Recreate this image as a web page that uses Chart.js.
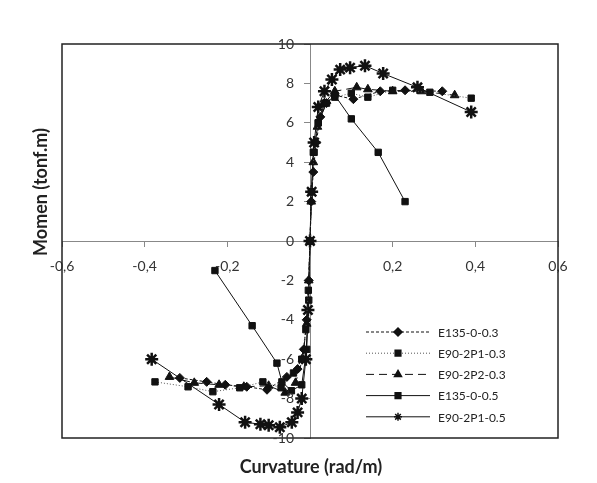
<!DOCTYPE html>
<html>
<head>
<meta charset="UTF-8">
<title>Momen - Curvature</title>
<script src="https://cdn.jsdelivr.net/npm/chart.js"></script>
<style>
  html, body { margin: 0; padding: 0; background: #fff; }
  #wrap { width: 597px; height: 483px; }
</style>
</head>
<body>
<div id="wrap"><canvas id="grafica" width="597" height="483"></canvas></div>
<script>
// series names
const seriesNames = ["E135-0-0.3", "E90-2P1-0.3", "E90-2P2-0.3", "E135-0-0.5", "E90-2P1-0.5"];

// E135-0-0.3
const x1 = [-0.315, -0.25, -0.205, -0.153, -0.104, -0.056, -0.03, -0.015, -0.008, -0.003, 0, 0.003, 0.008, 0.015, 0.025, 0.04, 0.06, 0.105, 0.17, 0.23, 0.32];
const y1 = [-6.95, -7.15, -7.3, -7.4, -7.55, -6.9, -6.5, -5.5, -4, -2, 0, 2, 3.5, 5, 6.3, 7, 7.4, 7.2, 7.6, 7.65, 7.6];

// E90-2P1-0.3
const x2 = [-0.375, -0.295, -0.235, -0.17, -0.114, -0.07, -0.04, -0.02, -0.01, -0.004, 0, 0.004, 0.01, 0.02, 0.035, 0.06, 0.1, 0.14, 0.2, 0.29, 0.39];
const y2 = [-7.15, -7.4, -7.65, -7.45, -7.15, -7.45, -6.7, -6, -4.5, -2.5, 0, 2.5, 4.5, 6, 7, 7.3, 7.5, 7.3, 7.65, 7.55, 7.25];

// E90-2P2-0.3
const x3 = [-0.34, -0.28, -0.22, -0.16, -0.1, -0.06, -0.035, -0.018, -0.008, -0.003, 0, 0.003, 0.008, 0.018, 0.035, 0.06, 0.113, 0.14, 0.2, 0.27, 0.35];
const y3 = [-6.9, -7.2, -7.3, -7.4, -7.35, -7.7, -7.2, -6, -4.2, -2, 0, 2, 4, 5.8, 7, 7.6, 7.8, 7.7, 7.6, 7.6, 7.4];

// E135-0-0.5
const x4 = [-0.23, -0.14, -0.08, -0.068, -0.045, -0.02, -0.008, -0.003, 0, 0.003, 0.008, 0.02, 0.04, 0.06, 0.1, 0.165, 0.23];
const y4 = [-1.5, -4.3, -6.2, -7.15, -7.6, -7.3, -5.5, -3, 0, 2.5, 4.5, 6, 7, 7.4, 6.2, 4.5, 2.0];

// E90-2P1-0.5
const x5 = [-0.383, -0.22, -0.157, -0.12, -0.1, -0.073, -0.044, -0.03, -0.02, -0.01, -0.005, 0, 0.004, 0.01, 0.02, 0.035, 0.053, 0.073, 0.097, 0.133, 0.177, 0.26, 0.39];
const y5 = [-6.0, -8.3, -9.2, -9.3, -9.35, -9.45, -9.2, -8.7, -8.0, -6, -3.5, 0, 2.5, 5, 6.8, 7.6, 8.2, 8.7, 8.8, 8.9, 8.5, 7.8, 6.55];

const xTicks = [-0.6, -0.4, -0.2, 0, 0.2, 0.4, 0.6];
const yTicks = [-10, -8, -6, -4, -2, 0, 2, 4, 6, 8, 10];

function puntos(xs, ys) {
  return xs.map((x, i) => ({ x: x, y: ys[i] }));
}

const estilos = [
  { pointStyle: 'rectRot', borderDash: [3, 2], radius: 4.5 },
  { pointStyle: 'rect', borderDash: [1, 2], radius: 4.5 },
  { pointStyle: 'triangle', borderDash: [8, 5], radius: 5 },
  { pointStyle: 'rect', borderDash: [], radius: 4.5 },
  { pointStyle: 'star', borderDash: [], radius: 6.5 }
];
const todos = [[x1, y1], [x2, y2], [x3, y3], [x4, y4], [x5, y5]];

const datasets = todos.map((s, i) => ({
  label: seriesNames[i],
  data: puntos(s[0], s[1]),
  showLine: true,
  borderColor: i === 1 ? '#555' : '#111',
  backgroundColor: '#111',
  borderWidth: 1,
  borderDash: estilos[i].borderDash,
  pointStyle: estilos[i].pointStyle,
  pointRadius: estilos[i].radius,
  pointBorderColor: '#111',
  pointBackgroundColor: '#111',
  pointBorderWidth: estilos[i].pointStyle === 'star' ? 2.5 : 1,
  tension: 0
}));

const fuente = 'Lato, "Open Sans", sans-serif';

// frame, y labels, axis titles and legend drawn on top
const marcoPlugin = {
  id: 'marco',
  afterDraw(chart) {
    const { ctx, chartArea: a } = chart;
    const sx = chart.scales.x, sy = chart.scales.y;
    ctx.save();
    ctx.strokeStyle = '#222';
    ctx.lineWidth = 1.5;
    ctx.strokeRect(a.left, a.top, a.right - a.left, a.bottom - a.top);

    // y tick labels, left of the vertical axis
    const ejeX = sx.getPixelForValue(0);
    ctx.fillStyle = '#333';
    ctx.font = '14px ' + fuente;
    ctx.textAlign = 'right';
    ctx.textBaseline = 'middle';
    yTicks.forEach(v => {
      ctx.fillText(String(v), ejeX - 16, sy.getPixelForValue(v));
    });

    ctx.fillStyle = '#222';
    ctx.font = 'bold 18px ' + fuente;
    ctx.textAlign = 'center';
    ctx.textBaseline = 'middle';
    ctx.fillText('Curvature (rad/m)', 311, 467);
    ctx.translate(41, 192);
    ctx.rotate(-Math.PI / 2);
    ctx.fillText('Momen (tonf.m)', 0, 0);
    ctx.restore();

    // legend
    ctx.save();
    const x0 = 366, x1l = 430, y0 = 332, dy = 21.2;
    chart.data.datasets.forEach((ds, i) => {
      const y = y0 + i * dy;
      ctx.strokeStyle = ds.borderColor;
      ctx.lineWidth = 1;
      ctx.setLineDash(ds.borderDash);
      ctx.beginPath();
      ctx.moveTo(x0, y);
      ctx.lineTo(x1l, y);
      ctx.stroke();
      ctx.setLineDash([]);
      ctx.fillStyle = '#111';
      ctx.strokeStyle = '#111';
      ctx.lineWidth = 1.5;
      Chart.helpers.drawPoint(ctx, { pointStyle: ds.pointStyle, radius: 4, rotation: 0, borderWidth: 1.5 }, (x0 + x1l) / 2, y);
      ctx.fillStyle = '#222';
      ctx.font = '12px ' + fuente;
      ctx.textAlign = 'left';
      ctx.textBaseline = 'middle';
      ctx.fillText(ds.label, 438, y + 1);
    });
    ctx.restore();
  }
};

new Chart(document.getElementById('grafica'), {
  type: 'scatter',
  data: { datasets: datasets },
  options: {
    responsive: false,
    animation: false,
    layout: { padding: { left: 62, right: 39, top: 44, bottom: 45 } },
    plugins: { legend: { display: false }, tooltip: { enabled: false } },
    scales: {
      x: {
        type: 'linear',
        min: -0.6,
        max: 0.6,
        position: { y: 0 },
        afterBuildTicks: (s) => { s.ticks = xTicks.map(v => ({ value: v })); },
        ticks: {
          color: '#333',
          padding: 12,
          font: { size: 14, family: fuente },
          callback: (v) => Math.abs(v) < 1e-9 ? '' : v.toFixed(1).replace('.', ',')
        },
        grid: { drawOnChartArea: false, color: '#888', tickLength: 5 },
        border: { color: '#888', width: 1 }
      },
      y: {
        type: 'linear',
        min: -10,
        max: 10,
        position: { x: 0 },
        afterBuildTicks: (s) => { s.ticks = yTicks.map(v => ({ value: v })); },
        ticks: { display: false },
        grid: { drawOnChartArea: false, color: '#888', tickLength: 6 },
        border: { color: '#888', width: 1 }
      }
    }
  },
  plugins: [marcoPlugin]
});
</script>
</body>
</html>
